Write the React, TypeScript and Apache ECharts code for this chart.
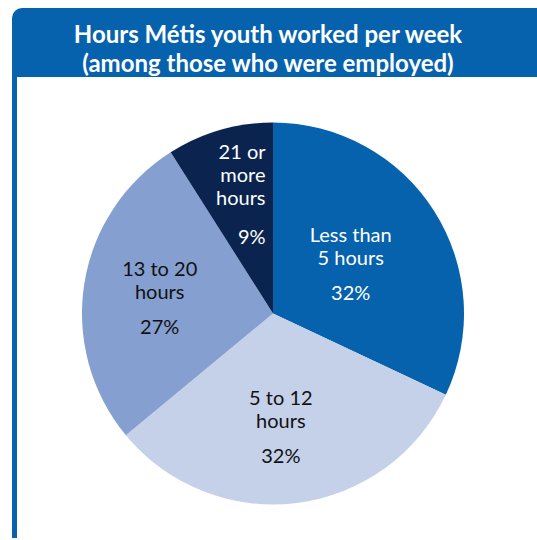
import React, { useEffect, useRef } from "react";
import * as echarts from "echarts";

const titleLines = ["Hours Métis youth worked per week", "(among those who were employed)"];
const categories = ["Less than\n5 hours", "5 to 12\nhours", "13 to 20\nhours", "21 or\nmore\nhours"];
const values = [32, 32, 27, 9];
const percentLabels = ["32%", "32%", "27%", "9%"];

const sliceColors = ["#0662AD", "#C5D0E9", "#859FD0", "#0B244F"];
const textColors = ["#FFFFFF", "#111111", "#111111", "#FFFFFF"];
const labelShift = [
  { dx: -5.5, dy: 8.5, align: "center" },
  { dx: -4.5, dy: 20.5, align: "center" },
  { dx: -16, dy: 5, align: "center" },
  { dx: 20, dy: -17, align: "right" },
];

export default function App() {
  const ref = useRef<HTMLDivElement>(null);
  useEffect(() => {
    if (!ref.current) return;
    const chart = echarts.init(ref.current, null, { renderer: "svg" });
    const font = "Lato, 'Open Sans', sans-serif";
    chart.setOption({
      animation: false,
      graphic: [
        {
          type: "rect",
          shape: { x: 12, y: 8, width: 540, height: 69, r: [10, 0, 0, 0] },
          style: { fill: "#0662AD" },
          silent: true,
        },
        {
          type: "rect",
          shape: { x: 12, y: 70, width: 5, height: 468 },
          style: { fill: "#0662AD" },
          silent: true,
        },
        {
          type: "text",
          x: 268,
          y: 33,
          style: {
            text: titleLines[0],
            fill: "#FFFFFF",
            font: `bold 24px ${font}`,
            align: "center",
            verticalAlign: "middle",
          },
        },
        {
          type: "text",
          x: 268,
          y: 62,
          style: {
            text: titleLines[1],
            fill: "#FFFFFF",
            font: `bold 24px ${font}`,
            align: "center",
            verticalAlign: "middle",
          },
        },
      ],
      series: [
        {
          type: "pie",
          center: [273, 313.5],
          radius: 191,
          startAngle: 90,
          clockwise: true,
          data: categories.map((name, i) => ({
            name,
            value: values[i],
            itemStyle: { color: sliceColors[i] },
            label: {
              color: textColors[i],
              rich: {
                n: { fontFamily: font, fontSize: 20, lineHeight: 23, color: textColors[i] },
                p: { fontFamily: font, fontSize: 20, lineHeight: i === 3 ? 56 : 47, color: textColors[i] },
              },
            },
          })),
          label: {
            show: true,
            position: "inside",
            fontFamily: font,
            fontSize: 20,
            formatter: (p: any) => {
              const lines = String(p.name).split("\n").map((l: string) => `{n|${l}}`).join("\n");
              return `${lines}\n{p|${percentLabels[p.dataIndex]}}`;
            },
          },
          labelLine: { show: false },
          labelLayout: (params: any) => {
            const s = labelShift[params.dataIndex];
            return { dx: s.dx, dy: s.dy, align: s.align };
          },
          itemStyle: { borderWidth: 0 },
          emphasis: { disabled: true },
        },
      ],
    });
    return () => chart.dispose();
  }, []);
  return (
    <div
      ref={ref}
      style={{ position: "fixed", left: 0, top: 0, width: 537, height: 540, background: "#FFFFFF" }}
    />
  );
}
